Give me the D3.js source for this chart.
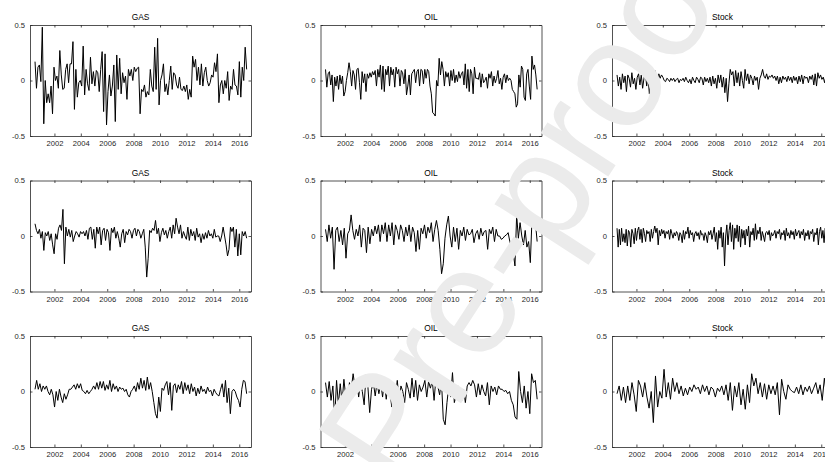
<!DOCTYPE html>
<html>
<head>
<meta charset="utf-8">
<script src="https://cdn.jsdelivr.net/npm/d3@7"></script>
<style>
	body { margin: 0; background: #fff; }
	svg { display: block; font-family: 'Liberation Sans', Arial, sans-serif; }
</style>
</head>
<body>
<div id="chart"></div>
<script>
// monthly-ish returns, row by row
var gasA = [0.17,-0.07,0.12,0.14,-0.01,0.48,-0.39,0.0,-0.2,-0.12,-0.2,-0.05,-0.3,0.12,0.0,0.04,-0.07,0.27,0.05,-0.08,-0.07,0.1,0.15,-0.02,0.15,0.15,0.35,-0.26,0.1,-0.15,-0.02,0.0,-0.05,0.31,-0.13,0.1,-0.03,-0.09,0.21,-0.03,0.08,-0.05,0.09,0.07,-0.1,0.1,0.26,-0.28,0.24,-0.4,-0.1,0.05,-0.14,-0.05,0.14,-0.37,0.23,-0.08,0.2,-0.12,0.07,-0.02,0.04,-0.17,0.1,0.04,0.1,0.0,0.12,0.08,0.11,0.12,-0.3,-0.08,-0.1,-0.04,-0.15,-0.1,-0.13,0.1,-0.05,-0.1,0.3,-0.08,0.38,-0.22,0.0,0.05,0.15,-0.1,-0.03,-0.13,0.0,0.13,-0.08,0.07,0.05,-0.04,-0.07,0.03,-0.08,-0.09,-0.05,-0.1,-0.04,-0.17,-0.08,-0.15,0.22,0.12,0.19,0.0,0.12,-0.04,0.15,-0.05,0.07,0.12,0.0,-0.05,-0.02,0.05,0.03,0.16,0.08,0.24,-0.2,-0.04,0.0,-0.12,0.0,-0.07,0.08,-0.18,-0.05,-0.08,0.1,-0.04,-0.05,-0.13,0.17,-0.15,0.12,0.0,0.3,0.1];
var oilA = [0.1,-0.06,0.06,0.08,-0.04,0.05,-0.19,0.03,-0.05,0.04,-0.08,0.05,-0.03,0.04,-0.14,-0.1,0.0,0.07,0.16,0.08,-0.05,0.09,0.05,-0.08,0.1,0.11,-0.02,-0.17,0.08,-0.02,0.06,-0.1,0.06,0.02,0.07,0.03,0.08,0.05,0.09,-0.05,0.1,0.03,0.14,-0.08,0.13,-0.1,0.1,0.05,0.13,-0.05,0.12,0.05,0.1,-0.06,0.12,0.06,0.1,-0.05,0.09,0.07,-0.03,0.1,-0.13,-0.05,0.05,-0.13,0.06,0.08,0.1,-0.02,0.08,0.1,-0.05,0.1,0.09,-0.03,0.1,0.02,0.1,0.08,-0.05,-0.12,-0.29,-0.3,-0.32,0.0,-0.05,0.2,0.05,0.17,0.1,-0.05,0.08,0.03,0.07,-0.05,0.09,0.0,0.1,-0.02,0.05,-0.01,0.08,0.02,0.06,0.08,-0.04,0.15,-0.07,0.1,-0.1,0.1,0.06,-0.12,0.12,0.02,0.02,0.01,0.07,-0.06,0.06,-0.02,0.0,0.03,-0.07,0.06,0.02,0.08,-0.05,0.04,-0.02,0.02,0.09,-0.03,0.02,-0.08,0.03,0.06,-0.02,0.05,0.0,0.02,0.0,-0.08,-0.1,-0.12,-0.24,-0.21,0.05,-0.06,0.13,0.1,-0.15,-0.18,0.06,0.1,-0.05,-0.17,0.22,0.1,0.14,0.05,-0.08];
var stockA = [0.05,-0.05,0.03,-0.08,0.06,-0.02,0.04,-0.1,0.05,0.02,-0.06,0.07,-0.03,0.02,-0.08,0.03,0.06,-0.04,0.05,-0.07,0.02,0.08,-0.05,0.03,-0.12,0.0,0.04,-0.05,0.09,0.05,-0.02,0.06,0.02,0.05,0.03,0.0,-0.01,0.02,
	0.01,-0.01,0.02,0.0,0.02,-0.01,0.01,0.02,-0.02,0.01,0.0,0.02,-0.01,0.03,0.0,-0.02,0.01,-0.03,0.03,0.0,-0.02,0.03,0.01,-0.02,0.03,0.02,-0.04,0.03,-0.01,0.02,-0.02,0.03,-0.05,0.04,-0.03,0.02,-0.07,0.05,-0.02,0.05,-0.06,0.03,-0.11,0.02,
	-0.19,-0.03,0.1,0.05,0.08,-0.05,0.09,-0.02,0.07,-0.05,0.08,0.0,-0.07,0.1,0.0,0.06,-0.03,0.05,0.02,-0.04,0.04,0.0,0.03,-0.08,0.02,0.05,0.1,0.04,0.02,0.06,0.01,0.04,
	0.03,0.05,0.02,0.04,0.0,0.04,-0.03,0.03,-0.02,0.04,0.01,0.03,-0.01,0.04,0.0,0.03,-0.02,0.04,0.0,0.03,-0.03,0.04,-0.01,0.05,-0.03,0.04,0.02,0.03,-0.02,0.04,0.01,0.05,-0.04,0.06,-0.05,0.07,0.02,0.05,0.01,0.03,-0.02,0.04,0.0,0.05];

var gasB = [0.11,0.05,0.02,0.06,-0.02,0.04,-0.13,0.03,0.0,0.04,-0.04,0.02,-0.08,-0.16,0.02,-0.03,0.07,0.1,0.05,0.24,-0.25,0.08,0.0,0.06,-0.01,0.05,-0.05,0.0,0.04,0.02,-0.01,0.04,0.02,0.04,0.0,0.05,-0.03,0.07,0.08,-0.03,0.06,-0.11,0.08,0.02,0.08,-0.08,0.05,0.07,-0.04,0.06,0.03,-0.13,0.07,0.03,0.08,-0.02,0.04,-0.02,-0.1,0.02,0.06,-0.06,0.04,0.01,0.06,0.04,-0.02,0.05,0.07,0.0,0.06,0.04,-0.02,0.02,0.06,-0.1,-0.37,-0.2,0.05,0.03,0.07,0.05,0.14,0.02,0.07,-0.05,0.03,0.07,0.01,0.05,-0.02,0.04,0.08,-0.02,0.1,0.02,0.16,0.08,0.02,0.1,-0.02,0.04,0.0,-0.03,0.08,-0.04,0.06,0.0,0.04,-0.04,0.07,-0.01,0.02,-0.06,0.02,-0.03,0.03,-0.02,0.05,0.0,0.02,-0.02,0.06,-0.01,0.0,0.0,-0.05,0.0,0.08,0.0,-0.08,-0.18,-0.12,0.08,0.04,0.08,-0.1,0.06,-0.18,0.02,-0.17,0.04,0.0,0.04,-0.02];
var oilB = [0.06,-0.05,0.1,-0.02,0.08,-0.3,0.05,0.08,-0.05,0.05,-0.08,0.07,-0.2,0.02,0.05,0.19,0.05,-0.03,0.06,0.0,0.1,-0.1,0.07,0.05,-0.15,0.08,-0.07,0.06,0.0,0.09,0.02,0.1,-0.05,0.1,0.02,0.12,-0.05,0.1,0.0,0.12,-0.08,0.1,0.05,-0.03,0.1,0.05,-0.05,0.08,0.0,0.1,-0.05,0.08,0.03,-0.14,0.05,-0.12,0.07,0.02,0.1,-0.02,0.08,0.03,0.12,-0.05,0.06,0.14,0.05,-0.12,-0.34,-0.25,-0.02,0.1,0.18,0.0,-0.1,0.08,-0.05,0.07,-0.12,0.05,0.0,0.08,-0.04,0.06,0.01,0.02,0.06,-0.06,0.02,0.05,-0.03,0.07,0.0,0.04,0.05,-0.12,0.06,0.02,0.08,-0.05,0.06,0.0,0.0,-0.03,-0.02,0.0,0.01,0.03,-0.05,-0.1,-0.15,-0.27,0.19,-0.02,0.12,0.0,-0.08,0.05,-0.1,-0.05,-0.24,0.16,0.1,0.12,-0.05];
var stockB = [0.07,-0.1,0.06,-0.08,0.07,-0.05,0.02,-0.06,0.06,-0.09,0.05,0.03,-0.1,0.06,0.02,-0.07,0.07,-0.04,0.05,0.08,-0.03,0.06,-0.06,0.07,0.02,-0.05,0.05,0.02,0.04,-0.05,0.06,-0.02,0.04,0.09,0.03,0.07,-0.08,0.05,0.0,0.06,0.02,0.05,-0.02,0.04,
	0.02,0.05,-0.03,0.06,0.02,-0.02,0.03,0.0,0.04,0.02,-0.04,0.03,0.01,-0.06,0.05,-0.03,0.04,0.02,0.08,-0.02,0.05,0.01,0.03,-0.05,0.02,0.04,0.0,0.03,-0.03,0.05,0.01,0.02,-0.04,0.03,0.0,-0.06,0.04,0.01,0.05,-0.03,0.02,0.08,-0.05,0.03,-0.12,0.05,-0.02,0.08,-0.1,0.03,
	-0.27,0.0,0.1,-0.08,0.05,0.12,-0.05,0.1,-0.12,0.07,-0.02,0.1,-0.05,0.09,-0.1,0.06,-0.02,0.05,-0.08,0.06,0.0,0.09,-0.1,0.04,0.01,0.07,-0.04,0.11,-0.03,0.05,0.02,0.08,-0.04,0.04,0.0,-0.05,0.03,0.04,0.01,0.05,-0.04,0.03,0.0,0.02,
	0.05,-0.02,0.04,0.02,0.06,-0.03,0.03,0.01,0.05,-0.04,0.07,0.0,0.03,-0.02,0.05,0.01,0.04,-0.03,0.06,0.0,0.03,0.05,-0.02,0.04,0.01,0.06,-0.04,0.03,0.0,0.05,-0.03,0.04,0.02,0.06,-0.05,0.03,0.01,0.07,-0.08,0.04,0.08,-0.02,0.05,-0.06,0.07,0.0,0.06,-0.02];

var gasC = [0.02,0.1,0.02,0.07,0.0,0.05,0.02,0.05,0.0,-0.03,0.02,-0.03,-0.14,0.0,-0.08,0.02,-0.05,-0.1,-0.02,-0.07,-0.03,0.02,0.02,0.04,0.06,0.02,0.07,0.03,0.07,0.01,0.0,-0.02,0.01,-0.02,0.0,0.02,0.05,0.02,0.08,0.02,0.09,0.03,0.09,0.01,0.06,0.02,0.1,0.0,0.07,0.02,0.05,0.0,0.04,0.02,0.03,0.0,0.02,-0.03,-0.05,0.0,0.02,0.05,0.0,0.08,0.02,0.12,0.03,0.1,0.01,0.13,0.02,0.08,0.0,-0.1,-0.2,-0.24,-0.05,-0.18,0.03,0.01,0.06,0.09,-0.03,0.08,-0.17,0.05,0.07,-0.01,0.06,0.02,0.09,-0.02,0.08,0.01,0.06,-0.02,0.07,0.0,0.04,-0.04,0.03,-0.02,0.05,0.0,0.02,-0.02,0.04,0.0,0.01,-0.04,0.02,-0.01,-0.03,-0.04,0.02,0.07,-0.05,0.1,-0.1,0.03,-0.2,0.0,0.02,0.0,-0.05,-0.08,-0.14,0.02,0.1,0.09,-0.02];
var oilC = [0.08,-0.05,0.09,-0.08,0.05,-0.25,0.1,-0.12,0.07,-0.1,0.11,-0.05,-0.12,0.08,0.02,0.16,0.04,0.1,-0.05,0.08,0.0,-0.12,0.15,0.05,-0.19,0.02,0.08,-0.04,0.08,-0.02,0.08,-0.05,0.09,-0.07,0.08,0.0,-0.14,0.07,-0.04,0.1,-0.08,0.05,0.0,-0.1,0.08,0.02,-0.06,0.12,-0.05,0.1,-0.08,0.06,0.0,0.04,0.1,-0.05,0.09,0.03,0.1,-0.08,0.12,0.05,-0.03,0.1,-0.25,-0.3,-0.1,0.05,-0.05,0.17,-0.1,-0.03,0.05,-0.05,-0.08,0.02,-0.1,0.05,0.08,0.05,0.1,0.06,-0.05,0.07,-0.03,0.06,0.0,-0.04,0.08,-0.12,0.05,0.0,0.04,-0.03,0.05,0.02,0.02,0.0,0.01,-0.02,0.0,-0.08,-0.12,-0.23,-0.25,0.18,0.0,-0.1,0.05,-0.15,0.0,-0.2,0.16,0.08,0.1,-0.07];
var stockC = [-0.02,0.05,-0.08,0.04,-0.1,0.05,-0.08,0.08,-0.03,-0.18,0.1,0.05,-0.05,0.08,-0.05,-0.15,0.0,-0.28,0.14,-0.14,0.0,-0.06,0.2,-0.05,0.08,-0.07,0.12,0.0,0.08,-0.02,0.05,-0.04,0.03,-0.03,0.04,0.0,0.06,0.02,0.04,-0.02,0.06,0.0,0.05,-0.03,0.04,0.02,-0.05,0.03,0.0,0.05,-0.03,0.06,-0.08,0.08,-0.17,0.05,-0.05,0.08,-0.12,0.02,-0.16,0.06,-0.1,0.16,0.05,0.12,-0.02,0.08,-0.05,0.07,-0.07,0.06,-0.02,0.05,-0.03,0.08,-0.21,0.11,0.0,-0.07,0.06,0.02,0.0,-0.01,0.04,-0.02,0.06,-0.03,0.04,0.0,0.05,-0.02,0.03,0.08,-0.02,0.06,-0.08,0.12,-0.04,0.06];

var titles = ['GAS', 'OIL', 'Stock'];
var yearTicks = [2002, 2004, 2006, 2008, 2010, 2012, 2014, 2016];
var valueTicks = [-0.5, 0, 0.5];
var valueLabels = ['-0.5', '0', '0.5'];

var rows = [[gasA, oilA, stockA], [gasB, oilB, stockB], [gasC, oilC, stockC]];

var width = 825, height = 462;
var panelW = 221, panelH = 111;
var colLeft = [30, 320.5, 612];
var rowTop = [25, 180.5, 336];
var axisColor = '#262626';

var svg = d3.select('#chart').append('svg')
	.attr('width', width)
	.attr('height', height);

var x = d3.scaleLinear().domain([2000.15, 2016.89]).range([0, panelW]);
var y = d3.scaleLinear().domain([-0.5, 0.5]).range([panelH, 0]);

function drawPanel(values, title, left, top) {
	var g = svg.append('g')
		.attr('transform', 'translate(' + left + ',' + top + ')');

	// spread the samples evenly from mid 2000 to mid 2016
	var t = d3.scaleLinear().domain([0, values.length - 1]).range([2000.53, 2016.56]);

	var line = d3.line()
		.x(function(d, i) { return x(t(i)); })
		.y(function(d) { return y(d); });

	g.append('path')
		.datum(values)
		.attr('d', line)
		.attr('fill', 'none')
		.attr('stroke', '#000')
		.attr('stroke-width', 1)
		.attr('stroke-linejoin', 'miter');

	// box + inward ticks, matlab style
	var xb = d3.axisBottom(x).tickValues(yearTicks).tickSizeInner(-2.5).tickSizeOuter(0).tickPadding(5).tickFormat(d3.format('d'));
	var xt = d3.axisTop(x).tickValues(yearTicks).tickSizeInner(-2.5).tickSizeOuter(0).tickFormat('');
	var yl = d3.axisLeft(y).tickValues(valueTicks).tickSizeInner(-2.5).tickSizeOuter(0).tickPadding(5)
		.tickFormat(function(d, i) { return valueLabels[i]; });
	var yr = d3.axisRight(y).tickValues(valueTicks).tickSizeInner(-2.5).tickSizeOuter(0).tickFormat('');

	var axes = [
		g.append('g').attr('transform', 'translate(0,' + panelH + ')').call(xb),
		g.append('g').call(xt),
		g.append('g').call(yl),
		g.append('g').attr('transform', 'translate(' + panelW + ',0)').call(yr)
	];
	axes.forEach(function(a) {
		a.selectAll('path, line').attr('stroke', axisColor).attr('stroke-width', 0.8);
		a.selectAll('text')
			.attr('fill', axisColor)
			.style('font-family', "'Liberation Sans', Arial, sans-serif")
			.style('font-size', '7.6px');
	});

	g.append('text')
		.attr('x', panelW / 2)
		.attr('y', -5)
		.attr('text-anchor', 'middle')
		.attr('fill', '#000')
		.style('font-size', '8.4px')
		.text(title);
}

rows.forEach(function(series, r) {
	series.forEach(function(values, c) {
		drawPanel(values, titles[c], colLeft[c], rowTop[r]);
	});
});

// light watermark across the figure
svg.append('text')
	.attr('transform', 'translate(400,497) rotate(-57)')
	.attr('text-anchor', 'start')
	.attr('fill', '#ebebeb')
	.style('font-family', "'Liberation Sans', Arial, sans-serif")
	.style('font-size', '152px')
	.text('Pre-proof');
</script>
</body>
</html>
